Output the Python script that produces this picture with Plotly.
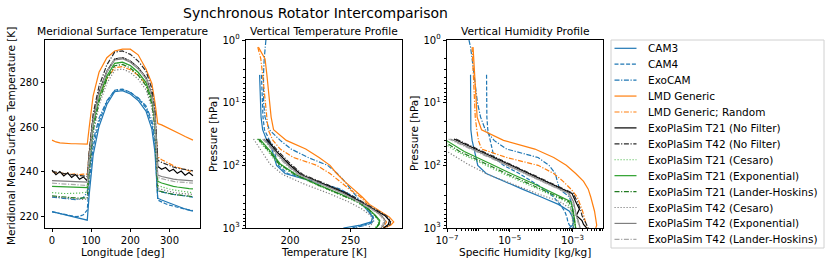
import plotly.graph_objects as go

# ---------------- data ----------------
MODELS = ["CAM3", "CAM4", "ExoCAM", "LMD Generic", "LMD Generic; Random",
          "ExoPlaSim T21 (No Filter)", "ExoPlaSim T42 (No Filter)",
          "ExoPlaSim T21 (Cesaro)", "ExoPlaSim T21 (Exponential)",
          "ExoPlaSim T21 (Lander-Hoskins)", "ExoPlaSim T42 (Cesaro)",
          "ExoPlaSim T42 (Exponential)", "ExoPlaSim T42 (Lander-Hoskins)"]

# longitude grid [deg]
LON = [0, 10, 20, 30, 40, 50, 60, 70, 80, 90,
       95, 105, 120, 140, 160, 180, 200, 220, 240, 255, 263,
       270, 280, 290, 300, 310, 320, 330, 340, 350, 360]

# meridional mean surface temperature [K]
TS_CAM3 = [222.3, 221.9, 221.5, 221.0, 220.6, 220.2, 219.8, 219.3, 218.9, 218.5,
           230.0, 247.5, 260.3, 270.1, 275.8, 276.3, 274.8, 271.9, 267.2, 259.1, 248.7,
           228.3, 227.5, 226.8, 226.1, 225.4, 224.8, 224.1, 223.5, 223.0, 222.5]
TS_CAM4 = [222.2, 221.8, 221.4, 221.0, 220.6, 220.3, 220.1, 220.2, 220.9, 223.0,
           235.4, 251.0, 262.4, 271.3, 276.5, 277.0, 275.6, 272.8, 268.7, 261.4, 252.0,
           227.5, 226.5, 225.8, 225.2, 224.7, 224.2, 223.8, 223.4, 223.1, 222.8]
TS_EXOCAM = [228.8, 228.6, 228.4, 228.2, 228.0, 227.8, 227.7, 227.9, 228.6, 231.0,
             240.2, 253.9, 264.0, 271.8, 276.3, 276.8, 275.5, 273.1, 269.5, 263.1, 254.8,
             231.5, 231.0, 230.6, 230.3, 230.0, 229.7, 229.4, 229.2, 229.0, 228.8]
TS_LMD = [254.2, 253.4, 253.0, 252.8, 252.7, 252.6, 252.6, 252.5, 252.5, 252.4,
          260.0, 274.0, 284.5, 291.0, 294.0, 294.8, 294.8, 292.3, 286.0, 279.5, 271.0,
          261.6, 261.0, 260.2, 259.4, 258.5, 257.6, 256.7, 255.8, 255.0, 254.2]
TS_LMDR = [240.2, 239.6, 239.8, 239.2, 239.5, 238.9, 239.2, 238.8, 239.0, 239.0,
           248.6, 263.0, 273.6, 281.7, 286.5, 287.0, 285.6, 283.2, 279.3, 272.6, 264.0,
           246.8, 245.5, 244.5, 243.6, 242.8, 242.1, 241.5, 241.0, 240.5, 240.0]
TS_T21NF = [240.8, 238.8, 240.2, 238.2, 239.6, 237.6, 238.9, 236.8, 237.8, 236.0,
            247.0, 263.5, 275.6, 285.0, 290.4, 291.0, 289.5, 286.6, 282.2, 274.5, 264.6,
            242.5, 241.2, 242.0, 240.3, 241.2, 239.4, 240.4, 238.6, 239.8, 238.3]
TS_T42NF = [240.3, 239.9, 239.6, 239.3, 239.0, 238.8, 238.6, 238.4, 238.2, 238.0,
            249.2, 266.0, 278.3, 287.8, 293.5, 294.0, 292.5, 289.5, 285.0, 277.2, 267.1,
            245.2, 244.3, 243.5, 242.8, 242.2, 241.7, 241.3, 241.0, 240.8, 240.5]
TS_T21CES = [230.8, 230.6, 230.5, 230.4, 230.4, 230.4, 230.5, 230.6, 230.8, 231.0,
             242.6, 260.0, 272.8, 282.6, 288.4, 289.0, 287.4, 284.4, 279.7, 271.6, 261.2,
             234.0, 233.4, 232.8, 232.4, 232.0, 231.7, 231.4, 231.1, 230.9, 230.7]
TS_T21EXP = [233.6, 233.5, 233.4, 233.3, 233.2, 233.2, 233.1, 233.1, 233.0, 233.0,
             244.2, 261.0, 273.3, 282.8, 288.5, 289.0, 287.5, 284.5, 280.0, 272.2, 262.1,
             235.8, 235.1, 234.5, 234.0, 233.6, 233.3, 233.0, 232.8, 232.6, 232.5]
TS_T21LH = [229.3, 229.1, 228.9, 228.8, 228.6, 228.5, 228.4, 228.3, 228.3, 228.5,
            240.4, 258.3, 271.3, 281.5, 287.4, 288.0, 286.4, 283.2, 278.5, 270.2, 259.4,
            231.7, 231.2, 230.7, 230.3, 230.0, 229.8, 229.6, 229.4, 229.2, 229.0]
TS_T42CES = [229.0, 228.8, 228.6, 228.4, 228.2, 228.0, 227.8, 227.6, 227.7, 228.0,
             239.6, 257.0, 269.8, 279.6, 285.4, 286.0, 284.4, 281.4, 276.7, 268.6, 258.2,
             232.6, 232.1, 231.6, 231.2, 230.9, 230.6, 230.4, 230.2, 230.1, 230.0]
TS_T42EXP = [236.1, 236.0, 235.9, 235.8, 235.7, 235.6, 235.6, 235.5, 235.5, 235.5,
             246.5, 263.0, 275.1, 284.5, 290.0, 290.5, 289.0, 286.1, 281.7, 274.0, 264.1,
             238.6, 238.0, 237.5, 237.1, 236.8, 236.6, 236.4, 236.2, 236.1, 236.0]
TS_T42LH = [235.0, 234.9, 234.8, 234.7, 234.6, 234.5, 234.4, 234.3, 234.2, 234.0,
            245.4, 262.5, 275.0, 284.7, 290.5, 291.0, 289.5, 286.4, 281.9, 273.9, 263.6,
            237.6, 237.0, 236.5, 236.1, 235.8, 235.6, 235.4, 235.3, 235.1, 235.0]

# pressure levels [hPa]
P_GCM = [1.0, 1.3, 2.0, 3.6, 6, 10, 17, 27, 40, 55, 75, 100, 135, 180, 240,
         320, 420, 540, 670, 800, 900, 1000]
P_EPS = [38, 60, 95, 140, 200, 280, 380, 500, 630, 760, 880, 1000]

# vertical temperature profiles [K]
T_CAM3 = [None, None, None, 175.0, 175.3, 175.6, 176.2, 177.5, 181.0, 185.0, 187.0,
          189.0, 196.0, 219.0, 240.0, 251.5, 259.5, 264.5, 268.0, 267.0, 258.0, 244.0]
T_CAM4 = [None, None, None, 176.5, 177.0, 177.3, 177.8, 179.0, 183.0, 186.5, 188.5,
          190.5, 198.0, 221.0, 241.5, 253.0, 261.0, 265.5, 268.5, 268.0, 261.0, 250.0]
T_EXOCAM = [180.2, 179.5, 178.8, 178.2, 178.0, 178.3, 179.5, 183.0, 192.0, 201.0, 215.0,
            231.0, 239.0, 245.0, 250.0, 255.0, 260.0, 264.0, 268.5, 269.0, 263.0, 252.0]
T_LMD = [None, 174.0, 179.5, 181.0, 182.0, 183.0, 184.5, 186.5, 197.0, 213.0, 224.0,
         233.0, 238.5, 245.0, 252.5, 259.5, 265.5, 274.0, 282.0, 285.5, 283.0, 277.0]
T_LMDR = [None, 173.5, 176.0, 177.5, 178.5, 179.5, 180.5, 182.0, 186.0, 192.0, 203.0,
          222.0, 233.0, 241.0, 249.0, 258.0, 264.0, 270.5, 276.5, 279.5, 278.0, 275.0]
T_T21NF = [180.5, 189.0, 199.0, 209.0, 228.5, 246.0, 258.0, 269.0, 278.0, 282.0, 281.0, 277.0]
T_T42NF = [181.5, 190.5, 200.5, 210.5, 230.0, 247.5, 259.5, 270.5, 279.0, 283.0, 282.5, 278.5]
T_T21CES = [173.0, 182.0, 190.0, 203.0, 220.5, 239.0, 254.5, 263.5, 269.5, 273.0, 272.5, 270.0]
T_T21EXP = [175.0, 184.0, 192.0, 205.0, 222.5, 241.0, 256.5, 265.0, 270.5, 274.0, 273.5, 271.0]
T_T21LH = [174.0, 183.0, 191.0, 204.0, 221.5, 240.0, 255.5, 264.5, 270.0, 273.5, 273.0, 270.5]
T_T42CES = [170.0, 177.0, 183.5, 194.0, 212.0, 232.0, 248.0, 259.5, 266.5, 268.5, 267.0, 264.5]
T_T42EXP = [178.5, 187.5, 197.0, 207.5, 226.0, 244.0, 257.0, 268.0, 275.5, 278.5, 277.5, 275.0]
T_T42LH = [177.5, 186.5, 196.0, 206.5, 225.0, 243.0, 256.0, 267.0, 274.5, 277.5, 276.5, 274.0]

# vertical humidity profiles, log10 of specific humidity [kg/kg]
LOGQ_CAM3 = [None, None, None, -6.25, -6.25, -6.25, -6.25, -6.24, -6.2, -6.14, -6.08,
             -6.02, -5.75, -5.2, -4.6, -4.0, -3.45, -3.1, -3.0, -2.97, -3.0, -3.1]
LOGQ_CAM4 = [None, None, None, -5.74, -5.74, -5.74, -5.73, -5.7, -5.63, -5.57, -5.5,
             -5.2, -4.7, -4.3, -3.9, -3.6, -3.4, -3.25, -3.18, -3.15, -3.1, -3.0]
LOGQ_EXOCAM = [-6.3, -6.25, -6.2, -6.14, -6.08, -6.03, -5.93, -5.78, -5.5, -5.1, -4.1,
               -3.75, -3.55, -3.48, -3.42, -3.1, -3.02, -3.0, -2.98, -2.97, -2.97, -2.97]
LOGQ_LMD = [None, -6.17, -6.15, -6.13, -6.11, -6.08, -6.04, -5.9, -5.2, -4.2, -3.6,
            -3.2, -2.9, -2.65, -2.5, -2.42, -2.35, -2.3, -2.27, -2.25, -2.23, -2.26]
LOGQ_LMDR = [None, -6.2, -6.18, -6.16, -6.14, -6.12, -6.1, -6.05, -6.0, -5.9, -5.1,
             -4.1, -3.6, -3.3, -3.05, -2.85, -2.75, -2.68, -2.63, -2.6, -2.57, -2.54]
LOGQ_T21NF = [-6.78, -5.92, -5.05, -4.32, -3.64, -3.02, -2.9, -2.78, -2.88, -2.7, -2.65, -2.55]
LOGQ_T42NF = [-6.72, -5.86, -4.98, -4.25, -3.58, -2.98, -2.85, -2.75, -2.7, -2.62, -2.55, -2.5]
LOGQ_T21CES = [-7.3, -6.7, -5.85, -5.15, -4.45, -3.8, -3.2, -3.05, -3.0, -2.98, -2.97, -2.95]
LOGQ_T21EXP = [-7.1, -6.45, -5.6, -4.9, -4.2, -3.6, -3.05, -2.99, -2.95, -2.93, -2.92, -2.9]
LOGQ_T21LH = [-7.2, -6.6, -5.75, -5.05, -4.35, -3.7, -3.12, -3.0, -2.97, -2.95, -2.93, -2.9]
LOGQ_T42CES = [-7.6, -7.0, -6.35, -5.7, -4.9, -4.15, -3.4, -3.06, -3.02, -3.0, -2.99, -2.98]
LOGQ_T42EXP = [-6.89, -6.03, -5.16, -4.43, -3.75, -3.11, -2.97, -2.93, -2.88, -2.82, -2.78, -2.76]
LOGQ_T42LH = [-6.95, -6.08, -5.22, -4.48, -3.8, -3.15, -3.0, -2.95, -2.9, -2.85, -2.8, -2.78]

# ticks
X1_TICKS = [0, 100, 200, 300]
Y1_TICKS = [220, 240, 260, 280]
X2_TICKS = [200, 250]
P_TICKS = [1, 10, 100, 1000]
P_TICK_TEXT = ["10<sup>0</sup>", "10<sup>1</sup>", "10<sup>2</sup>", "10<sup>3</sup>"]
Q_TICKS = [1e-7, 1e-5, 1e-3]
Q_TICK_TEXT = ["10<sup>\u22127</sup>", "10<sup>\u22125</sup>", "10<sup>\u22123</sup>"]

# ---------------- styles ----------------
DASH = "4px,1.8px"
DASHDOT = "5px,1.6px,1.2px,1.6px"
DOT = "1.2px,1.8px"
COLORS = ["#1f77b4", "#1f77b4", "#1f77b4", "#ff7f0e", "#ff7f0e", "#000000", "#2b2b2b",
          "#5cbf5c", "#2ca02c", "#217a21", "#7f7f7f", "#7f7f7f", "#a9a9a9"]
DASHES = ["solid", DASH, DASHDOT, "solid", DASHDOT, "solid", DASHDOT,
          DOT, "solid", DASHDOT, DOT, "solid", DASHDOT]

TS = [TS_CAM3, TS_CAM4, TS_EXOCAM, TS_LMD, TS_LMDR, TS_T21NF, TS_T42NF,
      TS_T21CES, TS_T21EXP, TS_T21LH, TS_T42CES, TS_T42EXP, TS_T42LH]
TP = [T_CAM3, T_CAM4, T_EXOCAM, T_LMD, T_LMDR, T_T21NF, T_T42NF,
      T_T21CES, T_T21EXP, T_T21LH, T_T42CES, T_T42EXP, T_T42LH]
QP = [LOGQ_CAM3, LOGQ_CAM4, LOGQ_EXOCAM, LOGQ_LMD, LOGQ_LMDR, LOGQ_T21NF, LOGQ_T42NF,
      LOGQ_T21CES, LOGQ_T21EXP, LOGQ_T21LH, LOGQ_T42CES, LOGQ_T42EXP, LOGQ_T42LH]
PP = [P_GCM] * 5 + [P_EPS] * 8

W, H = 830, 264
OFF = 0  # page body margin is removed below, so the figure sits at (0, 0)
FONT = "DejaVu Sans"
LW = 1.2

fig = go.Figure()
for i, name in enumerate(MODELS):
    line = dict(color=COLORS[i], width=LW, dash=DASHES[i])
    fig.add_trace(go.Scatter(x=LON, y=TS[i], mode="lines", line=line, name=name,
                             xaxis="x", yaxis="y", showlegend=False))
    fig.add_trace(go.Scatter(x=TP[i], y=PP[i], mode="lines", line=line, name=name,
                             xaxis="x2", yaxis="y2", showlegend=False))
    q = [None if v is None else 10 ** v for v in QP[i]]
    fig.add_trace(go.Scatter(x=q, y=PP[i], mode="lines", line=line, name=name,
                             xaxis="x3", yaxis="y3", showlegend=False))

# manual legend (samples drawn in an invisible helper axis)
ROW0, ROW_DY = 8.3, 15.92
for i, name in enumerate(MODELS):
    yy = ROW0 + i * ROW_DY
    fig.add_trace(go.Scatter(x=[3.5, 25.5], y=[yy, yy], mode="lines",
                             line=dict(color=COLORS[i], width=LW, dash=DASHES[i]),
                             xaxis="x4", yaxis="y4", showlegend=False, hoverinfo="skip"))

def px_x(v):
    return (v - OFF) / W

def px_y(v):
    return 1 - (v - OFF) / H

common = dict(showline=True, linecolor="black", linewidth=0.8, mirror=True,
              ticks="outside", ticklen=3.5, tickwidth=0.8, tickcolor="black",
              showgrid=False, zeroline=False, automargin=False,
              tickfont=dict(family=FONT, size=10, color="black"))
YDOM = [px_y(228), px_y(40)]
minor_p = [m * d for d in (1, 10, 100) for m in range(2, 10)]
minor_q = [m * d for d in (1e-7, 1e-6, 1e-5, 1e-4, 1e-3) for m in range(2, 10)] + [1e-6, 1e-4]

fig.update_layout(
    width=W, height=H, autosize=False,
    margin=dict(l=0, r=0, t=0, b=0, pad=0, autoexpand=False),
    paper_bgcolor="white", plot_bgcolor="white",
    showlegend=False,
    font=dict(family=FONT, size=10, color="black"),
    xaxis=dict(domain=[px_x(45), px_x(200)], range=[-18, 378], tickmode="array",
               tickvals=X1_TICKS, anchor="y", **common),
    yaxis=dict(domain=YDOM, range=[215, 298.9], tickmode="array", tickvals=Y1_TICKS,
               anchor="x", **common),
    xaxis2=dict(domain=[px_x(246), px_x(402)], range=[163.8, 292.3], tickmode="array",
                tickvals=X2_TICKS, anchor="y2", **common),
    yaxis2=dict(domain=YDOM, type="log", range=[3, 0], tickmode="array",
                tickvals=P_TICKS, ticktext=P_TICK_TEXT, anchor="x2",
                minor=dict(tickmode="array", tickvals=minor_p, ticks="outside",
                           ticklen=2, tickcolor="black", tickwidth=0.6),
                **common),
    xaxis3=dict(domain=[px_x(447), px_x(603)], type="log", range=[-7, -2.03],
                tickmode="array", tickvals=Q_TICKS, ticktext=Q_TICK_TEXT, anchor="y3",
                minor=dict(tickmode="array", tickvals=minor_q, ticks="outside",
                           ticklen=2, tickcolor="black", tickwidth=0.6),
                **common),
    yaxis3=dict(domain=YDOM, type="log", range=[3, 0], tickmode="array",
                tickvals=P_TICKS, ticktext=P_TICK_TEXT, anchor="x3",
                minor=dict(tickmode="array", tickvals=minor_p, ticks="outside",
                           ticklen=2, tickcolor="black", tickwidth=0.6),
                **common),
    xaxis4=dict(domain=[px_x(611), px_x(824)], range=[0, 213], visible=False,
                anchor="y4", fixedrange=True),
    yaxis4=dict(domain=[px_y(248), px_y(40)], range=[208, 0], visible=False,
                anchor="x4", fixedrange=True),
)

# legend frame
fig.add_shape(type="rect", xref="paper", yref="paper",
              x0=px_x(611), x1=px_x(824), y0=px_y(248), y1=px_y(40),
              line=dict(color="#d0d0d0", width=1), fillcolor="rgba(0,0,0,0)", layer="below")

ann = []
for i, name in enumerate(MODELS):
    ann.append(dict(xref="x4", yref="y4", x=34.7, y=ROW0 + i * ROW_DY, text=name,
                    showarrow=False, xanchor="left", yanchor="middle",
                    font=dict(family=FONT, size=10.5, color="black")))

def text_ann(x, y, text, size=10.5, angle=0):
    return dict(xref="paper", yref="paper", x=px_x(x), y=px_y(y), text=text,
                showarrow=False, xanchor="center", yanchor="middle", textangle=angle,
                font=dict(family=FONT, size=size, color="black"))

ann += [
    text_ann(315, 12.5, "Synchronous Rotator Intercomparison", size=14),
    text_ann(122.5, 31.5, "Meridional Surface Temperature", size=10.7),
    text_ann(324, 31.5, "Vertical Temperature Profile", size=10.7),
    text_ann(525, 31.5, "Vertical Humidity Profile", size=10.7),
    text_ann(122.5, 251.5, "Longitude [deg]"),
    text_ann(324, 251.5, "Temperature [K]"),
    text_ann(525, 251.5, "Specific Humidity [kg/kg]"),
    text_ann(11, 136, "Meridional Mean Surface Temperature [K]", angle=-90),
    text_ann(213, 134, "Pressure [hPa]", angle=-90),
    text_ann(414, 134, "Pressure [hPa]", angle=-90),
]
fig.update_layout(annotations=ann)

fig.write_html("out.html", config={"displayModeBar": False},
               post_script="document.body.style.margin='0px';")
